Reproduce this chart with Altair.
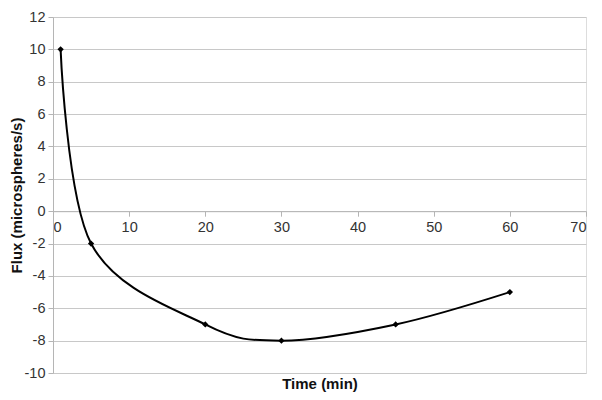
import altair as alt
import pandas as pd

time_min = [1, 5, 20, 30, 45, 60]
flux = [10, -2, -7, -8, -7, -5]

df = pd.DataFrame({"Time": time_min, "Flux": flux})

W, H = 533, 356
y_min, y_max = -10, 12
zero_offset = -H * (0 - y_min) / (y_max - y_min)

font = "Liberation Sans"
x_ticks = [0, 10, 20, 30, 40, 50, 60, 70]
y_ticks = [-10, -8, -6, -4, -2, 0, 2, 4, 6, 8, 10, 12]

x_enc = alt.X(
    "Time:Q",
    scale=alt.Scale(domain=[0, 70], nice=False),
    axis=alt.Axis(
        title="Time (min)",
        values=x_ticks,
        tickCount=len(x_ticks),
        offset=zero_offset,
        grid=False,
        domainColor="#b5b5b5",
        tickColor="#b5b5b5",
        tickSize=5,
        labelFont=font,
        labelFontSize=14.5,
        labelColor="#333333",
        labelPadding=4,
        labelOverlap=False,
        labelExpr="datum.value + ''",
        titleFont=font,
        titleFontSize=15,
        titleFontWeight="bold",
        titleColor="#111111",
        titleY=172,
        titleBaseline="middle",
    ),
)
y_enc = alt.Y(
    "Flux:Q",
    scale=alt.Scale(domain=[y_min, y_max], nice=False),
    axis=alt.Axis(
        title="Flux (microspheres/s)",
        values=y_ticks,
        tickCount=len(y_ticks),
        grid=True,
        gridColor="#c8c8c8",
        gridWidth=1,
        domainColor="#b5b5b5",
        tickColor="#b5b5b5",
        tickSize=5,
        labelFont=font,
        labelFontSize=14.5,
        labelColor="#333333",
        labelPadding=3,
        labelOverlap=False,
        labelExpr="datum.value + ''",
        titleFont=font,
        titleFontSize=15,
        titleFontWeight="bold",
        titleColor="#111111",
        titleX=-37,
        titleY=H / 2,
        titleAlign="center",
        titleBaseline="middle",
        titleAngle=270,
    ),
)

line = alt.Chart(df).mark_line(
    color="black", strokeWidth=2, interpolate="cardinal", tension=0
).encode(x=x_enc, y=y_enc)

pts = alt.Chart(df).mark_point(
    shape="diamond", filled=True, color="black", size=40, opacity=1
).encode(x="Time:Q", y="Flux:Q")

chart = (
    alt.layer(line, pts)
    .properties(
        width=W,
        height=H,
        autosize=alt.AutoSizeParams(type="none"),
        padding={"left": 45, "top": 9, "right": 8, "bottom": 20},
    )
    .configure_view(stroke=None)
    .configure(background="white")
)

chart.save("out.html", embed_options={"renderer": "svg", "actions": False})
